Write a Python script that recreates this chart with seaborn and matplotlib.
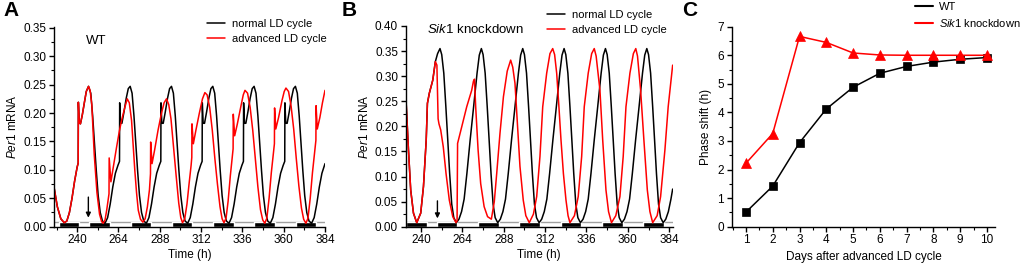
import numpy as np
import pandas as pd
import seaborn as sns
import matplotlib
matplotlib.use("Agg")
import matplotlib.pyplot as plt
from matplotlib.lines import Line2D
from matplotlib.ticker import MultipleLocator, FormatStrFormatter

# ---------------- data ----------------
# panel A (WT): both curves are the same before the shift
wt_pre_t = [226.7, 228.5, 230.5, 232.5, 234.0, 235.5, 237.0, 238.5, 240.0, 240.6, 240.7,
            241.2, 241.9, 243.0, 244.2, 245.3, 246.6]
wt_pre_v = [0.067, 0.035, 0.014, 0.007, 0.010, 0.025, 0.050, 0.080, 0.105, 0.112, 0.219,
            0.183, 0.181, 0.197, 0.219, 0.238, 0.247]

wt_normal_t = [247.9, 249.0, 250.0, 251.1, 252.2, 253.4, 254.7, 256.2, 257.7, 259.2, 260.7, 262.2, 263.7, 264.6,
               264.7, 265.2, 266.0, 267.2, 268.5, 269.7, 270.8, 271.9, 273.0, 274.0, 275.1, 276.2, 277.4, 278.7, 280.2, 281.7, 283.2, 284.7, 286.2, 287.7, 288.6,
               288.7, 289.2, 290.0, 291.2, 292.5, 293.7, 294.8, 295.9, 297.0, 298.0, 299.1, 300.2, 301.4, 302.7, 304.2, 305.7, 307.2, 308.7, 310.2, 311.7, 312.6,
               312.7, 313.2, 314.0, 315.2, 316.5, 317.7, 318.8, 319.9, 321.0, 322.0, 323.1, 324.2, 325.4, 326.7, 328.2, 329.7, 331.2, 332.7, 334.2, 335.7, 336.6,
               336.7, 337.2, 338.0, 339.2, 340.5, 341.7, 342.8, 343.9, 345.0, 346.0, 347.1, 348.2, 349.4, 350.7, 352.2, 353.7, 355.2, 356.7, 358.2, 359.7, 360.6,
               360.7, 361.2, 362.0, 363.2, 364.5, 365.7, 366.8, 367.9, 369.0, 370.0, 371.1, 372.2, 373.4, 374.7, 376.2, 377.7, 379.2, 380.7, 382.2, 383.7, 384.0]
wt_normal_v = [0.235, 0.195, 0.150, 0.099, 0.055, 0.025, 0.010, 0.006, 0.016, 0.040, 0.070, 0.094, 0.108, 0.115,
               0.218, 0.182, 0.182, 0.202, 0.226, 0.243, 0.247, 0.235, 0.195, 0.150, 0.099, 0.055, 0.025, 0.010, 0.006, 0.016, 0.040, 0.070, 0.094, 0.108, 0.115,
               0.218, 0.182, 0.182, 0.202, 0.226, 0.243, 0.247, 0.235, 0.195, 0.150, 0.099, 0.055, 0.025, 0.010, 0.006, 0.016, 0.040, 0.070, 0.094, 0.108, 0.115,
               0.218, 0.182, 0.182, 0.202, 0.226, 0.243, 0.247, 0.235, 0.195, 0.150, 0.099, 0.055, 0.025, 0.010, 0.006, 0.016, 0.040, 0.070, 0.094, 0.108, 0.115,
               0.218, 0.182, 0.182, 0.202, 0.226, 0.243, 0.247, 0.235, 0.195, 0.150, 0.099, 0.055, 0.025, 0.010, 0.006, 0.016, 0.040, 0.070, 0.094, 0.108, 0.115,
               0.218, 0.182, 0.182, 0.202, 0.226, 0.243, 0.247, 0.235, 0.195, 0.150, 0.099, 0.055, 0.025, 0.010, 0.006, 0.016, 0.040, 0.070, 0.094, 0.108, 0.111]

wt_adv_t = [247.5, 248.5, 249.9, 251.5, 253.0, 254.2, 255.1, 256.2, 257.2, 258.5, 258.6, 259.6, 261.0, 262.9,
            264.5, 265.8, 267.7, 269.1, 270.3, 271.6, 272.5, 273.5, 274.5, 275.5, 276.8, 278.2, 279.5, 280.8,
            282.0, 282.6, 282.7, 283.5, 285.0, 287.0, 289.0, 290.5, 291.9, 293.2, 294.5, 296.0, 297.5, 299.0,
            300.2, 301.2, 302.5, 303.8, 305.0, 306.2, 306.6, 306.7, 307.5, 309.0, 311.0, 312.8, 314.2, 315.5,
            317.0, 318.5, 320.0, 321.5, 323.0, 324.2, 325.3, 326.5, 327.7, 329.0, 330.6, 330.7, 331.5, 333.0,
            335.0, 336.5, 337.5, 339.0, 340.5, 342.0, 343.5, 345.0, 346.5, 347.8, 349.0, 350.2, 351.5, 352.8,
            354.6, 354.7, 355.4, 357.0, 359.0, 360.3, 361.3, 362.8, 364.3, 365.8, 367.3, 368.8, 370.3, 371.6,
            372.9, 374.1, 375.4, 376.7, 378.7, 378.8, 379.5, 381.0, 382.5, 384.0]
wt_adv_v = [0.240, 0.215, 0.128, 0.060, 0.022, 0.009, 0.006, 0.012, 0.030, 0.058, 0.121, 0.079, 0.105, 0.140,
            0.168, 0.187, 0.210, 0.225, 0.218, 0.187, 0.145, 0.099, 0.060, 0.029, 0.013, 0.008, 0.014, 0.035,
            0.065, 0.093, 0.149, 0.111, 0.135, 0.170, 0.200, 0.218, 0.225, 0.215, 0.190, 0.140, 0.090, 0.042,
            0.016, 0.007, 0.014, 0.040, 0.075, 0.108, 0.122, 0.181, 0.146, 0.170, 0.200, 0.225, 0.236, 0.232,
            0.210, 0.170, 0.120, 0.075, 0.035, 0.014, 0.007, 0.015, 0.045, 0.090, 0.137, 0.198, 0.160, 0.180,
            0.210, 0.232, 0.240, 0.235, 0.210, 0.170, 0.120, 0.070, 0.030, 0.012, 0.006, 0.015, 0.050, 0.095,
            0.146, 0.209, 0.172, 0.192, 0.222, 0.238, 0.244, 0.238, 0.212, 0.172, 0.120, 0.072, 0.033, 0.013,
            0.006, 0.015, 0.050, 0.095, 0.152, 0.213, 0.172, 0.192, 0.218, 0.240]

# panel B (Sik1 knockdown)
kd_pre_t = [231.1, 232.7, 234.0, 235.6, 237.5, 239.8, 241.4, 243.0, 243.7, 244.8, 246.8, 248.3]
kd_pre_v = [0.265, 0.153, 0.073, 0.027, 0.008, 0.027, 0.080, 0.173, 0.246, 0.266, 0.292, 0.329]

kd_normal_t = [249.6, 251.0, 252.0, 253.2, 254.4, 255.5, 256.6, 257.8, 259.0, 260.5, 262.0, 263.5, 265.0, 266.6, 268.5, 270.5, 272.5, 273.8,
               275.0, 276.0, 277.2, 278.4, 279.5, 280.6, 281.8, 283.0, 284.5, 286.0, 287.5, 289.0, 290.6, 292.5, 294.5, 296.5, 297.8,
               299.0, 300.0, 301.2, 302.4, 303.5, 304.6, 305.8, 307.0, 308.5, 310.0, 311.5, 313.0, 314.6, 316.5, 318.5, 320.5, 321.8,
               323.0, 324.0, 325.2, 326.4, 327.5, 328.6, 329.8, 331.0, 332.5, 334.0, 335.5, 337.0, 338.6, 340.5, 342.5, 344.5, 345.8,
               347.0, 348.0, 349.2, 350.4, 351.5, 352.6, 353.8, 355.0, 356.5, 358.0, 359.5, 361.0, 362.6, 364.5, 366.5, 368.5, 369.8,
               371.0, 372.0, 373.2, 374.4, 375.5, 376.6, 377.8, 379.0, 380.5, 382.0, 383.5, 385.0, 386.0]
kd_normal_v = [0.345, 0.355, 0.343, 0.306, 0.239, 0.173, 0.106, 0.045, 0.018, 0.008, 0.015, 0.030, 0.055, 0.106, 0.173, 0.239, 0.306, 0.342,
               0.355, 0.343, 0.306, 0.239, 0.173, 0.106, 0.045, 0.018, 0.008, 0.015, 0.030, 0.055, 0.106, 0.173, 0.239, 0.306, 0.342,
               0.355, 0.343, 0.306, 0.239, 0.173, 0.106, 0.045, 0.018, 0.008, 0.015, 0.030, 0.055, 0.106, 0.173, 0.239, 0.306, 0.342,
               0.355, 0.343, 0.306, 0.239, 0.173, 0.106, 0.045, 0.018, 0.008, 0.015, 0.030, 0.055, 0.106, 0.173, 0.239, 0.306, 0.342,
               0.355, 0.343, 0.306, 0.239, 0.173, 0.106, 0.045, 0.018, 0.008, 0.015, 0.030, 0.055, 0.106, 0.173, 0.239, 0.306, 0.342,
               0.355, 0.343, 0.306, 0.239, 0.173, 0.106, 0.045, 0.018, 0.008, 0.015, 0.030, 0.055, 0.075]

kd_adv_t = [249.2, 249.9, 250.4, 251.4, 252.9, 254.5, 256.4, 258.4, 260.3, 260.9, 261.2, 263.6, 266.5, 269.4, 270.4, 271.0,
            271.7, 273.1, 274.6, 276.6, 278.6, 280.8, 282.5, 283.9, 285.8, 287.8, 290.0, 292.0, 293.2, 294.5, 295.9,
            297.4, 299.3, 300.8, 302.8, 305.2, 307.1, 309.0, 310.6, 312.9, 314.8, 316.4, 317.5, 318.7, 320.0, 321.2,
            322.6, 324.1, 325.3, 326.4, 329.0, 331.2, 333.2, 334.7, 337.0, 339.0, 340.5, 341.6, 343.8, 345.4, 347.3,
            348.8, 350.5, 353.0, 355.4, 357.3, 358.9, 361.2, 363.2, 364.6, 365.6, 367.4, 369.3, 371.3, 372.8, 374.4,
            377.0, 379.0, 381.5, 383.4, 386.0]
kd_adv_v = [0.322, 0.215, 0.205, 0.193, 0.159, 0.106, 0.053, 0.020, 0.008, 0.012, 0.166, 0.199, 0.239, 0.272, 0.290, 0.294,
            0.239, 0.153, 0.086, 0.040, 0.020, 0.015, 0.050, 0.106, 0.186, 0.259, 0.310, 0.332, 0.318, 0.286, 0.206,
            0.120, 0.053, 0.022, 0.008, 0.025, 0.060, 0.140, 0.239, 0.306, 0.345, 0.355, 0.343, 0.306, 0.239, 0.173,
            0.106, 0.053, 0.022, 0.008, 0.022, 0.060, 0.140, 0.239, 0.306, 0.345, 0.355, 0.340, 0.272, 0.173, 0.073,
            0.030, 0.008, 0.022, 0.060, 0.140, 0.239, 0.306, 0.345, 0.355, 0.340, 0.272, 0.173, 0.073, 0.030, 0.008,
            0.022, 0.060, 0.153, 0.239, 0.322]

# dark phases (black bars on the time axis)
dark_a_start = [229.5, 247, 271, 295, 319, 343, 367]
dark_a_end = [241.0, 259, 283, 307, 331, 355, 379]
dark_b_start = [231.1, 249, 273, 297, 321, 345, 369]
dark_b_end = [243.2, 261, 285, 309, 333, 357, 381]
shift_a = 246.5
shift_b = 249.5

# panel C
days = [1, 2, 3, 4, 5, 6, 7, 8, 9, 10]
wt_shift = [0.51, 1.42, 2.94, 4.12, 4.88, 5.37, 5.61, 5.76, 5.86, 5.92]
kd_shift = [2.22, 3.26, 6.66, 6.45, 6.08, 6.01, 6.00, 6.00, 6.00, 6.00]

# ---------------- style ----------------
sns.set_style("ticks", {"axes.edgecolor": "black", "xtick.color": "black", "ytick.color": "black",
                        "text.color": "black", "axes.labelcolor": "black"})
plt.rcParams['font.family'] = ['Liberation Sans', 'DejaVu Sans']
plt.rcParams['mathtext.fontset'] = 'custom'
plt.rcParams['mathtext.it'] = 'Liberation Sans:italic'
plt.rcParams['mathtext.rm'] = 'Liberation Sans'

RED = "#ff0000"
FS = 8.5

fig = plt.figure(figsize=(10.24, 2.68), dpi=100)
ax_a = fig.add_axes([0.0530, 0.1541, 0.2644, 0.7463])
ax_b = fig.add_axes([0.3962, 0.1541, 0.2607, 0.7489])
ax_c = fig.add_axes([0.7146, 0.1541, 0.2571, 0.7463])


def style(ax):
    for s in ["top", "right"]:
        ax.spines[s].set_visible(False)
    for s in ["left", "bottom"]:
        ax.spines[s].set_linewidth(1.0)
    ax.tick_params(which="major", direction="out", length=3.5, width=1.0, labelsize=FS, pad=2)
    ax.tick_params(which="minor", direction="out", length=2, width=0.8)


def time_panel(ax, pre_t, pre_v, n_t, n_v, a_t, a_v, starts, ends, shift, xlim, ytop, bar_h):
    sns.lineplot(x=pre_t + n_t, y=pre_v + n_v, ax=ax, color="black", lw=1.1,
                 estimator=None, sort=False, label="normal LD cycle")
    sns.lineplot(x=pre_t + a_t, y=pre_v + a_v, ax=ax, color=RED, lw=1.1,
                 estimator=None, sort=False, label="advanced LD cycle")
    ax.axhline(bar_h, color="#a0a0a0", lw=1.0, zorder=1)
    ax.broken_barh([(s, e - s) for s, e in zip(starts, ends)], (0, bar_h),
                   facecolors="black", zorder=1.5)
    ax.annotate("", xy=(shift, 0.011), xytext=(shift, 0.057),
                arrowprops=dict(arrowstyle="-|>", color="black", lw=1.0, mutation_scale=7))
    ax.set_xlim(*xlim)
    ax.set_ylim(0, ytop)
    ax.set_xticks([240, 264, 288, 312, 336, 360, 384])
    ax.xaxis.set_minor_locator(MultipleLocator(12))
    ax.yaxis.set_major_locator(MultipleLocator(0.05))
    ax.yaxis.set_minor_locator(MultipleLocator(0.025))
    ax.yaxis.set_major_formatter(FormatStrFormatter("%.2f"))
    ax.set_xlabel("Time (h)", fontsize=FS, labelpad=2)
    ax.set_ylabel(r"$\it{Per1}$ mRNA", fontsize=FS, labelpad=3)
    style(ax)


time_panel(ax_a, wt_pre_t, wt_pre_v, wt_normal_t, wt_normal_v, wt_adv_t, wt_adv_v,
           dark_a_start, dark_a_end, shift_a, (226.7, 384.0), 0.352, 0.0078)
time_panel(ax_b, kd_pre_t, kd_pre_v, kd_normal_t, kd_normal_v, kd_adv_t, kd_adv_v,
           dark_b_start, dark_b_end, shift_b, (231.1, 386.0), 0.40, 0.0088)

ax_a.text(245.0, 0.327, "WT", fontsize=9.5, va="center", ha="left")
ax_b.text(243.5, 0.394, r"$\it{Sik1}$ knockdown", fontsize=9.5, va="center", ha="left")

leg_kw = dict(loc="upper left", bbox_transform=fig.transFigure, frameon=False, borderpad=0,
              handlelength=1.6, handletextpad=0.6, labelspacing=0.45, fontsize=8)
ax_a.legend(bbox_to_anchor=(0.197, 0.950), **leg_kw)
ax_b.legend(bbox_to_anchor=(0.529, 0.984), **leg_kw)

# panel C
sns.lineplot(x=days, y=wt_shift, ax=ax_c, color="black", lw=1.1, marker="s", markersize=5.5,
             markeredgecolor="black", markeredgewidth=0.5)
sns.lineplot(x=days, y=kd_shift, ax=ax_c, color=RED, lw=1.1, marker="^", markersize=7,
             markeredgecolor=RED, markeredgewidth=0.5)
ax_c.set_xlim(0.47, 10.3)
ax_c.set_ylim(0, 7)
ax_c.xaxis.set_major_locator(MultipleLocator(1))
ax_c.xaxis.set_minor_locator(MultipleLocator(0.5))
ax_c.yaxis.set_major_locator(MultipleLocator(1))
ax_c.yaxis.set_minor_locator(MultipleLocator(0.5))
ax_c.set_xlabel("Days after advanced LD cycle", fontsize=FS, labelpad=3)
ax_c.set_ylabel("Phase shift (h)", fontsize=FS, labelpad=4)
style(ax_c)
handles = [Line2D([], [], color="black", lw=1.5), Line2D([], [], color=RED, lw=1.5)]
ax_c.legend(handles, ["WT", r"$\it{Sik1}$ knockdown"], bbox_to_anchor=(0.888, 1.012), **leg_kw)

for x, letter in [(0.003, "A"), (0.334, "B"), (0.666, "C")]:
    fig.text(x, 0.995, letter, fontsize=15, fontweight="bold", va="top", ha="left")

fig.savefig("out.png", dpi=100)
